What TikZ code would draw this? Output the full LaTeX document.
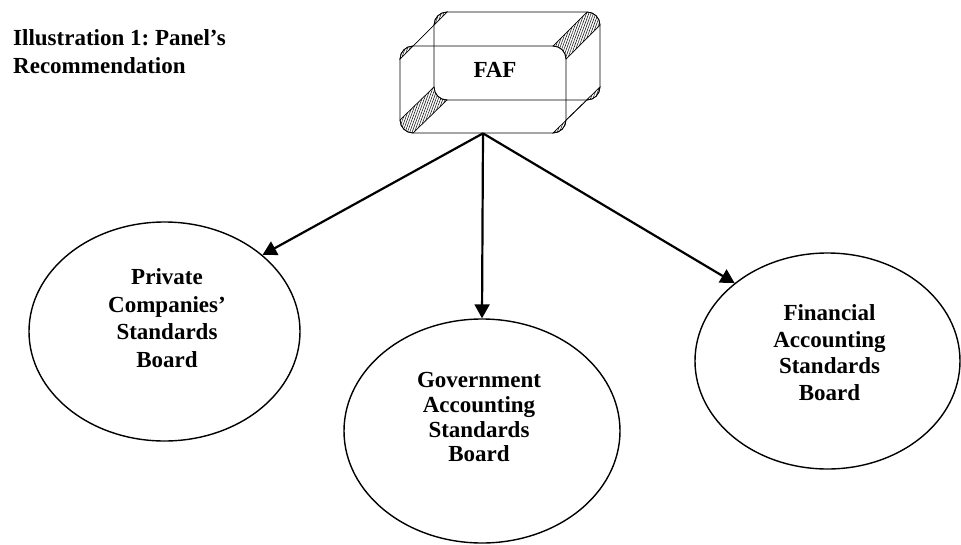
\documentclass[tikz,border=0pt]{standalone}
\usepackage{fontspec}
\setmainfont{Liberation Serif}
\usepackage{tikz}
\usetikzlibrary{shapes.geometric, arrows.meta, patterns.meta}
\frenchspacing

\begin{document}
\begin{tikzpicture}[x=1pt, y=-1pt,
                board/.style={draw, ellipse, line width=1.4pt, inner sep=0pt},
                boardtext/.style={font=\bfseries\fontsize{23}{#1}\selectfont, align=center, inner sep=0pt},
                link/.style={-{Triangle[length=14pt, width=15pt]}, line width=2.2pt},
                face/.style={draw, line width=0.7pt, rounded corners=13pt},
                bevel/.style={pattern={Lines[angle=70, distance=2.2pt, line width=0.5pt]}, draw, line width=0.7pt}]
                \useasboundingbox (0,0) rectangle (961,544);
                % title
                \node (title) at (13,29) [anchor=north west, inner sep=0pt, align=left,
                    font=\bfseries\fontsize{23}{28}\selectfont] {Illustration 1: Panel’s\\Recommendation};
                % FAF box
                \node (fafback) at (517,56) [face, minimum width=166pt, minimum height=88pt] {};
                \node (faf) at (483,89.5) [face, minimum width=166pt, minimum height=87pt] {};
                \filldraw[bevel] (400,59) .. controls (400,51.8) and (405.8,46) .. (413,46) -- (447,12) .. controls (439.8,12) and (434,17.8) .. (434,25) -- cycle;
                \filldraw[bevel] (553,46) .. controls (560.2,46) and (566,51.8) .. (566,59) -- (600,25) .. controls (600,17.8) and (594.2,12) .. (587,12) -- cycle;
                \filldraw[bevel] (400,120) .. controls (400,127.2) and (405.8,133) .. (413,133) -- (447,100) .. controls (439.8,100) and (434,94.2) .. (434,87) -- cycle;
                \filldraw[bevel] (553,133) .. controls (560.2,133) and (566,127.2) .. (566,120) -- (600,87) .. controls (600,94.2) and (594.2,100) .. (587,100) -- cycle;
                \node (faftext) at (495,70) [font=\bfseries\fontsize{23}{27}\selectfont] {FAF};
                % boards
                \node (pcsb) at (164.5,331.5) [board, minimum width=271pt, minimum height=219pt] {};
                \node (gasb) at (482,431) [board, minimum width=276pt, minimum height=224pt] {};
                \node (fasb) at (827.5,361) [board, minimum width=265pt, minimum height=216pt] {};
                \node (pcsbtext) at (167,318) [boardtext=27.7] {Private\\Companies’\\Standards\\Board};
                \node (gasbtext) at (479,417.3) [boardtext=24.6] {Government\\Accounting\\Standards\\Board};
                \node (fasbtext) at (829.5,352.5) [boardtext=26.7] {Financial\\Accounting\\Standards\\Board};
                % arrows
                \draw[link] (faf.south) -- (pcsb.38.6);
                \draw[link] (faf.south) -- (gasb.north);
                \draw[link] (faf.south) -- (fasb.140);
            \end{tikzpicture}
\end{document}
